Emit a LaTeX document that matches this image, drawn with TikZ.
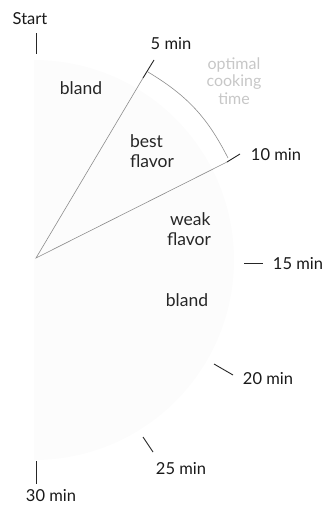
\documentclass[tikz,border=0pt]{standalone}
\usepackage{fontspec}
\setmainfont{Lato}
\begin{document}
\begin{tikzpicture}[x=1pt,y=-1pt,
  tick/.style={draw=black!85,line width=0.9pt},
  wedge/.style={draw=black!45,line width=0.6pt},
  lbl/.style={font=\fontsize{16.5}{18}\selectfont,text=black!90,inner sep=0pt},
  region/.style={font=\fontsize{17.5}{19.5}\selectfont,text=black!85,inner sep=0pt,align=left},
  faint/.style={font=\fontsize{16}{17.5}\selectfont,text=black!22,inner sep=0pt,align=center}]
\useasboundingbox (0,0) rectangle (325,506);
\fill[black!1.2] (34,60) arc[start angle=-90,end angle=90,radius=200] -- cycle;
% center
\coordinate (c) at (36,258);
% ticks
\coordinate (t0a) at (36,33); \coordinate (t0b) at (36,54);
\coordinate (t5a) at (143,78); \coordinate (t5b) at (154,60);
\coordinate (t10a) at (227,162); \coordinate (t10b) at (240,154);
\coordinate (t15a) at (244,263); \coordinate (t15b) at (263,263);
\coordinate (t20a) at (214,364); \coordinate (t20b) at (233,375);
\coordinate (t25a) at (143,437); \coordinate (t25b) at (153,452);
\coordinate (t30a) at (36,461); \coordinate (t30b) at (36,484);
\draw[tick] (t0a) -- (t0b);
\draw[tick] (t5a) -- (t5b);
\draw[tick] (t10a) -- (t10b);
\draw[tick] (t15a) -- (t15b);
\draw[tick] (t20a) -- (t20b);
\draw[tick] (t25a) -- (t25b);
\draw[tick] (t30a) -- (t30b);
% wedge
\draw[wedge] (t5a) -- (c) -- (t10a);
\coordinate (a1) at (148,72); \coordinate (a2) at (228,158);
\draw[wedge] (a1) to[bend left=16] (a2);
% labels
\node[lbl] (s) at (30,19) {Start};
\node[lbl] (l5) at (171,44) {5 min};
\node[lbl] (l10) at (276,155) {10 min};
\node[lbl] (l15) at (298,264) {15 min};
\node[lbl] (l20) at (268,379) {20 min};
\node[lbl] (l25) at (181,469) {25 min};
\node[lbl] (l30) at (51,496) {30 min};
\node[region] (b1) at (81,88) {bland};
\node[region] (bf) at (152,151) {best\\flavor};
\node[region] (wf) at (189,229) {\hspace*{3pt}weak\\flavor};
\node[region] (b2) at (187,300) {bland};
\node[faint] (opt) at (234,81) {optimal\\cooking\\time};
\end{tikzpicture}
\end{document}
